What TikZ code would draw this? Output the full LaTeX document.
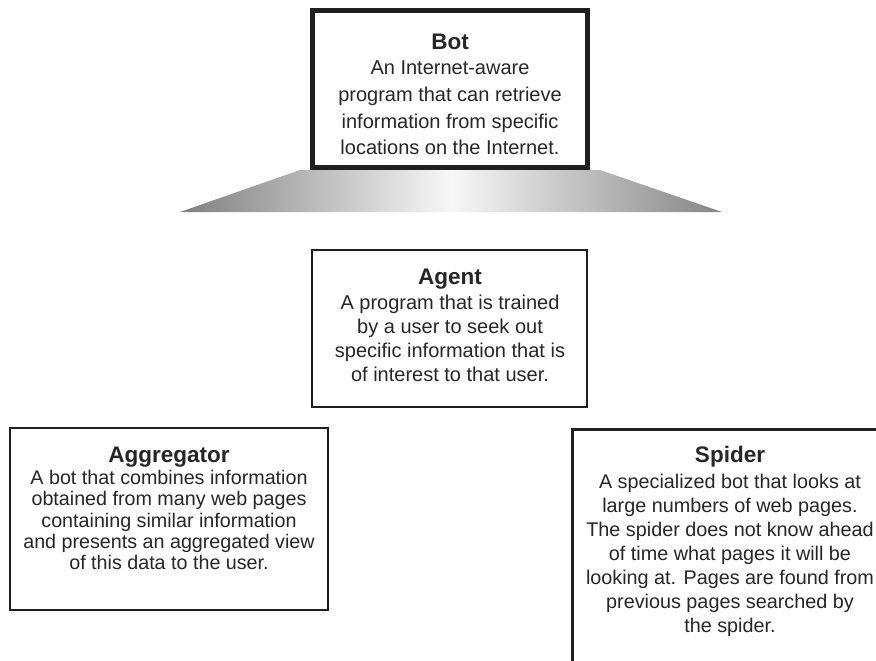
\documentclass[tikz,border=0pt]{standalone}
\usepackage{fontspec}
\setmainfont{Liberation Sans}
\begin{document}
\begin{tikzpicture}[x=1pt,y=-1pt,
  frame/.style={draw=black!88,fill=white,inner sep=0pt,line width=2.7pt},
  desc/.style={inner sep=0pt,anchor=north,align=center,text=black!85}]
\useasboundingbox (0,0) rectangle (876,661);
\clip (0,0) rectangle (876,661);

% shaded base under the top box
\coordinate (tl) at (300,170);
\coordinate (tr) at (600,170);
\coordinate (br) at (722,212);
\coordinate (bl) at (180,212);
\shade[left color=black!50,right color=black!48,middle color=black!3]
  (tl) -- (tr) -- (br) -- (bl) -- cycle;

% boxes
\node[frame,line width=5pt,minimum width=275pt,minimum height=157pt] (bot) at (450,89) {};
\node[frame,minimum width=275pt,minimum height=157pt] (agent) at (449.5,328.5) {};
\node[frame,line width=2.8pt,minimum width=318pt,minimum height=182pt] (aggr) at (169,519) {};
\node[frame,line width=2.8pt,minimum width=400pt,minimum height=300pt,anchor=north west] (spider) at (571,428) {};

% texts
\node[desc,font=\fontsize{20}{26.7}\selectfont] (bottxt) at (450,34)
  {{\fontsize{22.5}{26.7}\selectfont\bfseries Bot}\\[-1.7pt]
   An Internet-aware\\ program that can retrieve\\ information from specific\\ locations on the Internet.};
\node[desc,font=\fontsize{20}{24}\selectfont] (agenttxt) at (450,269)
  {{\fontsize{22.5}{24}\selectfont\bfseries Agent}\\[1pt]
   A program that is trained\\ by a user to seek out\\ specific information that is\\ of interest to that user.};
\node[desc,font=\fontsize{19.7}{21.2}\selectfont] (aggrtxt) at (169,447)
  {{\fontsize{22.5}{21.2}\selectfont\bfseries Aggregator}\\[0.8pt]
   A bot that combines information\\ obtained from many web pages\\ containing similar information\\ and presents an aggregated view\\ of this data to the user.};
\node[desc,font=\fontsize{19.8}{24}\selectfont] (spidertxt) at (730,446)
  {{\fontsize{22.5}{24}\selectfont\bfseries Spider}\\[2pt]
   A specialized bot that looks at\\ large numbers of web pages.\\ The spider does not know ahead\\ of time what pages it will be\\ looking at. Pages are found from\\ previous pages searched by\\ the spider.};
\end{tikzpicture}
\end{document}
